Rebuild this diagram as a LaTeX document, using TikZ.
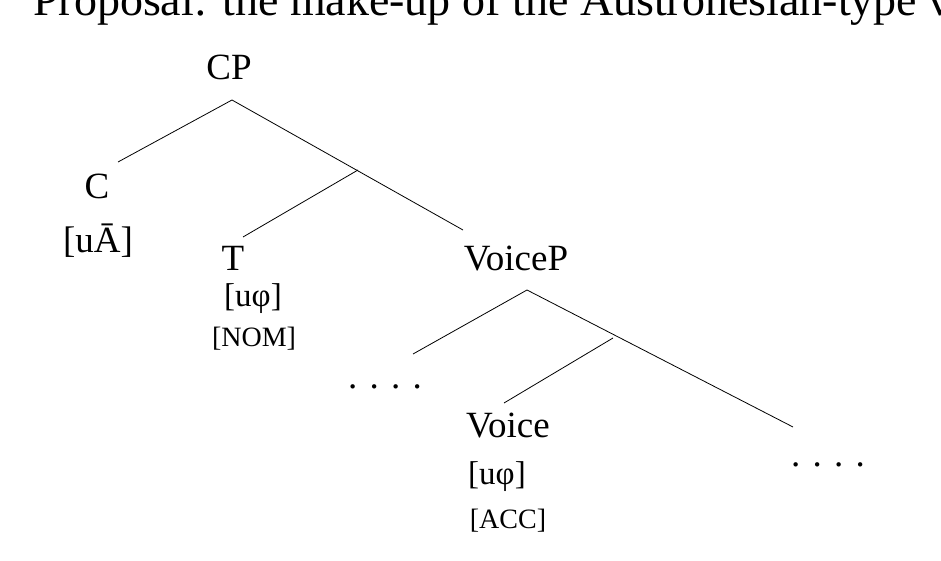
\documentclass[tikz,border=0pt]{standalone}
\usepackage{fontspec}
\setmainfont{Liberation Serif}
\begin{document}
\begin{tikzpicture}[x=1pt,y=-1pt,
  lab/.style={inner sep=0pt,anchor=base,font=\fontsize{37}{40}\selectfont},
  feat/.style={inner sep=0pt,anchor=base,font=\fontsize{33}{36}\selectfont},
  case/.style={inner sep=0pt,anchor=base,font=\fontsize{28}{31}\selectfont},
  br/.style={line width=0.8pt}]
\useasboundingbox (0,0) rectangle (941,561);
\begin{scope}
\clip (0,0) rectangle (941,561);
\node[inner sep=0pt,anchor=base west,font=\fontsize{46}{50}\selectfont] (title) at (33,16) {Proposal: the make-up of the Austronesian-type voice system};
\end{scope}
\node[lab] (cp) at (229,80) {CP};
\node[lab] (c) at (97,199) {C};
\node[lab] (ca) at (98,252) {[uĀ]};
\node[lab] (t) at (233,270) {T};
\node[feat] (tf) at (253,306) {[uφ]};
\node[case] (tc) at (254,346) {[NOM]};
\node[lab] (vp) at (516,270) {VoiceP};
\node[lab] (d1) at (385,388) {. . . .};
\node[lab] (v) at (508,437) {Voice};
\node[feat] (vf) at (497,484) {[uφ]};
\node[case] (vc) at (508,528) {[ACC]};
\node[lab] (d2) at (828,466) {. . . .};
\coordinate (cpb) at (232,100);
\coordinate (cpl) at (118,162);
\coordinate (cpr) at (463,230);
\coordinate (tbar) at (358,170);
\coordinate (tl) at (243,237);
\coordinate (vpb) at (527,290);
\coordinate (vl) at (413,354);
\coordinate (vr) at (793,427);
\coordinate (vbar) at (613,338);
\coordinate (vhl) at (504,403);
\draw[br] (cpb) -- (cpl);
\draw[br] (cpb) -- (cpr);
\draw[br] (tbar) -- (tl);
\draw[br] (vpb) -- (vl);
\draw[br] (vpb) -- (vr);
\draw[br] (vbar) -- (vhl);
\end{tikzpicture}
\end{document}
